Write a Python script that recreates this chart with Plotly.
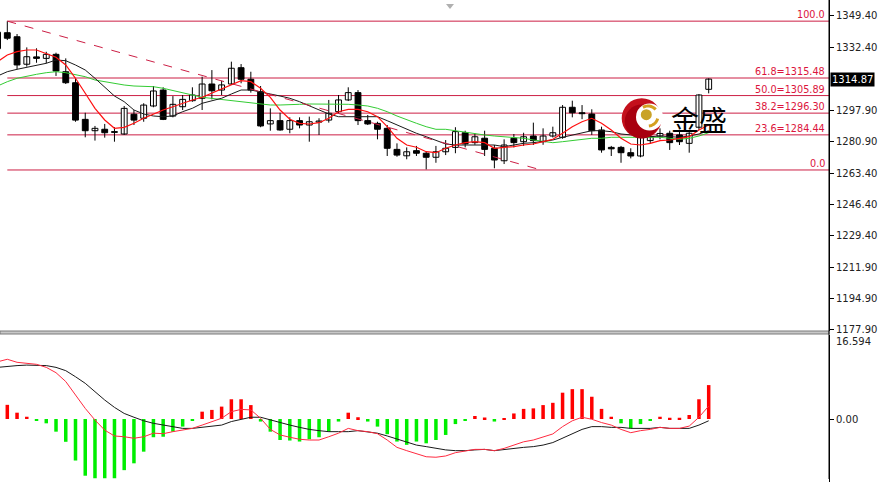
import plotly.graph_objects as go
import numpy as np

# ---------------- data ----------------
open_ = [1331.5, 1340.2, 1338.0, 1323.0, 1327.0, 1326.2, 1328.4, 1318.9, 1312.9, 1292.9,
         1286.7, 1287.5, 1286.2, 1284.9, 1295.7, 1293.5, 1300.2, 1308.9, 1294.7, 1299.8,
         1303.1, 1304.4, 1312.2, 1308.9, 1312.2, 1321.1, 1314.8, 1308.0, 1290.4, 1292.2,
         1287.5, 1292.2, 1289.8, 1291.4, 1292.5, 1297.1, 1303.5, 1307.5, 1292.2, 1290.7,
         1288.0, 1276.5, 1273.0, 1275.8, 1274.4, 1272.2, 1275.2, 1277.6, 1285.6, 1280.2,
         1282.6, 1277.1, 1270.3, 1282.6, 1280.7, 1283.8, 1280.7, 1283.8, 1283.1, 1299.5,
         1296.5, 1295.8, 1287.1, 1277.6, 1277.6, 1274.7, 1272.9, 1281.3, 1283.8, 1285.3,
         1284.4, 1279.8, 1288.6, 1309.3]
high = [1342.0, 1346.5, 1339.5, 1332.2, 1331.7, 1329.8, 1329.3, 1326.2, 1315.3, 1296.5,
        1289.3, 1290.4, 1288.6, 1300.2, 1298.0, 1301.7, 1311.1, 1310.4, 1305.6, 1306.2,
        1310.4, 1316.2, 1319.8, 1314.0, 1324.4, 1323.1, 1318.9, 1311.1, 1298.9, 1296.5,
        1294.0, 1294.0, 1294.4, 1293.5, 1303.5, 1306.2, 1310.4, 1308.9, 1295.3, 1291.6,
        1289.8, 1279.8, 1277.6, 1278.4, 1275.5, 1278.4, 1281.6, 1288.6, 1286.7, 1285.3,
        1286.7, 1278.9, 1282.0, 1284.9, 1285.6, 1291.1, 1288.0, 1288.9, 1300.7, 1303.1,
        1300.7, 1298.4, 1288.9, 1278.4, 1278.4, 1277.1, 1285.0, 1285.5, 1288.0, 1286.7,
        1286.2, 1287.0, 1306.7, 1315.3]
low = [1330.0, 1336.2, 1320.2, 1321.7, 1323.8, 1323.5, 1316.6, 1312.2, 1291.6, 1283.1,
       1281.3, 1282.9, 1280.7, 1284.4, 1289.8, 1291.6, 1299.5, 1292.5, 1294.0, 1298.0,
       1302.5, 1298.0, 1303.8, 1306.2, 1311.7, 1312.6, 1307.5, 1288.6, 1286.7, 1286.7,
       1285.3, 1288.0, 1280.7, 1284.4, 1291.1, 1296.2, 1302.9, 1289.8, 1289.8, 1282.0,
       1272.9, 1272.5, 1271.1, 1272.9, 1265.6, 1269.2, 1273.4, 1274.4, 1277.6, 1279.0,
       1272.9, 1266.2, 1268.5, 1277.6, 1278.4, 1278.9, 1279.0, 1283.0, 1282.3, 1294.0,
       1293.0, 1284.4, 1274.7, 1272.9, 1269.2, 1271.6, 1272.2, 1279.5, 1282.0, 1276.2,
       1278.9, 1274.7, 1287.1, 1307.1]
close = [1340.5, 1337.2, 1322.6, 1327.1, 1326.2, 1328.4, 1319.3, 1312.9, 1292.5, 1286.7,
         1288.0, 1285.6, 1285.8, 1298.9, 1292.5, 1300.7, 1308.4, 1292.9, 1301.1, 1303.8,
         1306.2, 1312.2, 1308.5, 1311.7, 1320.8, 1314.8, 1308.9, 1289.3, 1292.2, 1287.1,
         1292.2, 1289.8, 1291.6, 1292.0, 1296.2, 1303.5, 1307.5, 1292.2, 1290.4, 1287.5,
         1277.1, 1273.4, 1275.2, 1274.4, 1272.2, 1275.2, 1277.1, 1286.2, 1279.5, 1283.4,
         1276.5, 1270.7, 1278.9, 1280.2, 1283.4, 1281.3, 1283.8, 1285.6, 1299.5, 1296.5,
         1296.0, 1286.7, 1276.2, 1276.8, 1274.7, 1272.9, 1283.4, 1283.4, 1285.2, 1280.2,
         1280.7, 1285.3, 1306.2, 1314.87]

ma_red = [1324.38, 1328.04, 1329.84, 1330.77, 1330.77, 1328.97, 1326.78, 1322.58, 1315.32, 1307.13,
          1298.94, 1292.55, 1288.02, 1288.57, 1290.75, 1293.48, 1295.83, 1298.01, 1299.81, 1301.67,
          1303.47, 1304.95, 1307.13, 1309.31, 1311.66, 1314.01, 1313.46, 1309.86, 1304.95, 1298.01,
          1292.93, 1290.75, 1290.37, 1291.08, 1293.48, 1297.08, 1298.39, 1298.39, 1297.08, 1294.35,
          1288.89, 1282.56, 1278.90, 1277.65, 1275.24, 1274.70, 1277.10, 1278.90, 1280.16, 1280.70,
          1280.16, 1277.10, 1277.65, 1277.97, 1278.90, 1279.45, 1280.70, 1282.01, 1285.29, 1288.89,
          1291.62, 1293.48, 1290.75, 1287.09, 1282.56, 1279.45, 1278.90, 1279.83, 1281.25, 1281.63,
          1282.56, 1283.43, 1287.09, 1289.82]
ma_black = [1316.57, 1318.92, 1320.23, 1321.32, 1322.58, 1323.51, 1325.31, 1324.93, 1322.58, 1319.85,
            1315.32, 1310.73, 1305.65, 1302.54, 1298.01, 1295.83, 1294.74, 1294.35, 1294.74, 1297.08,
            1298.94, 1301.67, 1303.09, 1304.40, 1306.75, 1308.93, 1308.93, 1308.00, 1306.75, 1305.65,
            1304.40, 1302.54, 1300.19, 1298.01, 1295.83, 1294.35, 1294.35, 1294.35, 1294.35, 1294.35,
            1292.17, 1289.82, 1287.47, 1285.29, 1283.43, 1281.25, 1279.45, 1278.90, 1278.90, 1278.90,
            1278.90, 1278.90, 1277.97, 1278.90, 1279.83, 1280.16, 1280.70, 1281.63, 1283.11, 1284.36,
            1285.61, 1286.71, 1286.71, 1286.16, 1284.91, 1284.36, 1283.81, 1283.43, 1283.81, 1283.43,
            1283.11, 1283.81, 1284.91, 1286.71]
ma_green = [1311.11, 1313.46, 1315.32, 1316.57, 1317.50, 1318.38, 1318.92, 1318.38, 1317.12, 1316.19,
            1314.39, 1313.46, 1312.59, 1311.66, 1311.11, 1310.73, 1310.73, 1309.86, 1308.55, 1307.13,
            1306.20, 1304.95, 1304.40, 1303.85, 1303.09, 1302.54, 1301.99, 1301.29, 1300.74, 1300.74,
            1300.74, 1301.12, 1301.29, 1301.29, 1301.29, 1301.29, 1301.12, 1300.74, 1300.19, 1298.94,
            1297.08, 1294.74, 1292.55, 1290.75, 1288.89, 1287.47, 1287.47, 1286.71, 1285.61, 1284.91,
            1284.36, 1283.81, 1283.43, 1283.11, 1282.56, 1281.63, 1280.70, 1280.16, 1280.70, 1281.25,
            1281.63, 1282.56, 1282.56, 1283.11, 1283.11, 1283.11, 1283.11, 1283.11, 1283.11, 1282.56,
            1282.01, 1282.56, 1283.81, 1285.61]

macd_hist = [2.1, 2.8, 1.25, 0.45, -0.2, -0.85, -2.5, -4.5, -8.2, -11.2,
             -11.7, -11.7, -11.7, -10.1, -8.75, -6.45, -3.6, -3.5, -2.5, -1.5,
             -0.3, 1.45, 1.8, 2.45, 3.9, 3.9, 2.75, -0.5, -2.5, -4.15,
             -4.25, -4.45, -4.0, -3.6, -2.5, -0.5, 1.25, 0.35, -0.5, -1.5,
             -3.0, -4.45, -5.1, -4.45, -4.8, -4.15, -3.15, -1.0, -0.3, 0.6,
             0.3, -0.5, 0.2, 1.1, 2.0, 2.1, 2.75, 3.2, 5.2, 5.9,
             5.9, 4.4, 2.0, 0.45, -0.85, -1.85, -1.0, -0.3, 0.45, 0.25,
             0.25, 0.8, 3.9, 6.7]
macd_red = [11.3, 11.8, 11.2, 11.0, 10.8, 10.2, 9.15, 7.4, 4.75, 2.1,
            -0.2, -2.2, -3.35, -3.5, -3.8, -3.5, -2.8, -2.9, -2.5, -2.2,
            -1.85, -1.2, -0.5, 0.15, 1.45, 1.9, 1.8, 0.15, -2.05, -3.15,
            -3.6, -4.0, -4.15, -4.15, -3.5, -2.8, -1.85, -2.3, -2.5, -2.9,
            -4.15, -5.6, -6.25, -6.8, -7.45, -7.55, -7.3, -6.65, -6.25, -6.0,
            -6.0, -6.25, -5.8, -5.15, -4.5, -4.15, -3.6, -2.95, -1.5, -0.35,
            0.35, -0.05, -0.7, -1.2, -2.05, -2.7, -2.3, -2.05, -1.65, -1.85,
            -1.85, -1.4, 0.35, 2.55]
macd_black = [10.2, 10.45, 10.55, 10.65, 10.65, 10.55, 10.2, 9.55, 8.35, 7.05,
              5.4, 3.75, 2.3, 1.1, 0.35, -0.35, -0.85, -1.2, -1.5, -1.85,
              -1.85, -1.65, -1.4, -1.2, -0.5, -0.05, 0.35, 0.35, -0.2, -0.7,
              -1.2, -1.65, -2.05, -2.3, -2.5, -2.5, -2.5, -2.3, -2.5, -2.8,
              -3.35, -4.0, -4.65, -5.15, -5.45, -5.8, -6.1, -6.25, -6.25, -6.1,
              -6.0, -6.25, -6.0, -5.8, -5.6, -5.45, -5.15, -4.65, -3.8, -2.8,
              -2.05, -1.5, -1.5, -1.65, -1.65, -1.85, -1.85, -1.85, -1.65, -1.85,
              -1.85, -1.85, -1.2, -0.35]

fib_anchor_idx = [1, 55.8]
fib_anchor_price = [1346.52, 1265.26]
fib_ratios = [0.0, 23.6, 38.2, 50.0, 61.8, 100.0]
price_ticks = [1349.40, 1332.40, 1297.90, 1280.90, 1263.40, 1246.40, 1229.40, 1211.90, 1194.90, 1177.90]
last_price = 1314.87
macd_top = 16.594
logo_text = "金盛"

# ---------------- geometry ----------------
W, H = 882, 482
PW = 829          # plot area width (right axis at x=829)
X_RANGE = [0.25, 85.35]
Y_MAIN = [1177.34, 1358.07]
Y_MACD = [-12.44, macd_top]

def px(x):
    return x / PW

def py(y):
    return 1 - y / H

n = len(close)
idx = list(range(n))

fig = go.Figure()

# wicks
wx, wy = [], []
for i in idx:
    wx += [i, i, None]
    wy += [low[i], high[i], None]
fig.add_trace(go.Scatter(x=wx, y=wy, mode="lines", line=dict(color="black", width=1),
                         hoverinfo="skip", xaxis="x", yaxis="y"))

# bodies
base = [min(o, c) for o, c in zip(open_, close)]
hgt = [max(abs(c - o), 0.3) for o, c in zip(open_, close)]
cols = ["white" if c >= o else "black" for o, c in zip(open_, close)]
fig.add_trace(go.Bar(x=idx, y=hgt, base=base, width=0.6,
                     marker=dict(color=cols, line=dict(color="black", width=1)),
                     xaxis="x", yaxis="y"))

# moving averages
fig.add_trace(go.Scatter(x=idx, y=ma_green, mode="lines", line=dict(color="#33cc33", width=1), xaxis="x", yaxis="y"))
fig.add_trace(go.Scatter(x=idx, y=ma_black, mode="lines", line=dict(color="#1a1a1a", width=1), xaxis="x", yaxis="y"))
fig.add_trace(go.Scatter(x=idx, y=ma_red, mode="lines", line=dict(color="#ff1010", width=1.2), xaxis="x", yaxis="y"))

# MACD histogram + lines
hcols = ["#ff0000" if v >= 0 else "#00ee00" for v in macd_hist]
fig.add_trace(go.Bar(x=idx, y=macd_hist, width=0.36, marker=dict(color=hcols, line=dict(width=0)),
                     xaxis="x2", yaxis="y2"))
fig.add_trace(go.Scatter(x=idx, y=macd_black, mode="lines", line=dict(color="#1a1a1a", width=1), xaxis="x2", yaxis="y2"))
fig.add_trace(go.Scatter(x=idx, y=macd_red, mode="lines", line=dict(color="#ff2a40", width=1), xaxis="x2", yaxis="y2"))

shapes = []
annotations = []
FIB_COL = "#cc1f45"
fhi, flo = fib_anchor_price[0], fib_anchor_price[1]
for r in fib_ratios:
    lvl = flo + r / 100.0 * (fhi - flo)
    shapes.append(dict(type="line", xref="x", yref="y", x0=fib_anchor_idx[0], x1=X_RANGE[1],
                       y0=lvl, y1=lvl, line=dict(color=FIB_COL, width=1), layer="below"))
    txt = f"{r:.1f}" if r in (0.0, 100.0) else f"{r:.1f}={lvl:.2f}"
    annotations.append(dict(xref="paper", yref="y", x=px(827), y=lvl, text=txt, showarrow=False,
                            xanchor="right", yanchor="bottom", yshift=-1,
                            font=dict(family="DejaVu Sans", size=9.7, color="#dc143c")))
# dashed fib trend line
shapes.append(dict(type="line", xref="x", yref="y", x0=fib_anchor_idx[0], y0=fhi,
                   x1=fib_anchor_idx[1], y1=flo, line=dict(color=FIB_COL, width=1, dash="dash")))

# panel separator
shapes.append(dict(type="rect", xref="paper", yref="paper", x0=0, x1=1, y0=py(334), y1=py(331),
                   fillcolor="#c8c8c8", line=dict(color="#7a7a7a", width=1)))
# right axis line through both panels
shapes.append(dict(type="line", xref="paper", yref="paper", x0=1, x1=1, y0=py(479), y1=1,
                   line=dict(color="black", width=1)))

# small shift marker at top
shapes.append(dict(type="path", xref="paper", yref="paper",
                   path=f"M {px(446)},{py(4)} L {px(454)},{py(4)} L {px(450)},{py(9)} Z",
                   fillcolor="#b0b0b0", line=dict(width=0)))

# logo
def circ(cx, cy, r, color):
    return dict(type="circle", xref="paper", yref="paper", x0=px(cx - r), x1=px(cx + r),
                y0=py(cy + r), y1=py(cy - r), fillcolor=color, line=dict(width=0))
shapes.append(circ(641.7, 118.3, 20, "#c4101c"))
shapes.append(circ(641.7, 121.5, 17, "#a8000f"))
shapes.append(circ(649.5, 117.0, 13.5, "white"))
def arc(cx, cy, r, a0, a1):
    a = np.linspace(np.radians(a0), np.radians(a1), 16)
    pts = [(px(cx + r * np.cos(t)), py(cy + r * np.sin(t))) for t in a]
    return "M " + " L ".join(f"{x:.5f},{y:.5f}" for x, y in pts)
shapes.append(dict(type="path", xref="paper", yref="paper", path=arc(648, 116, 10, -120, -40),
                   line=dict(color="#d4a020", width=3)))
shapes.append(dict(type="path", xref="paper", yref="paper", path=arc(648, 116, 10, 15, 85),
                   line=dict(color="#d4a020", width=3)))
shapes.append(circ(646.3, 114.7, 5.5, "#c9a227"))
annotations.append(dict(xref="paper", yref="paper", x=px(698.5), y=py(118.5), text=logo_text,
                        showarrow=False, xanchor="center", yanchor="middle",
                        font=dict(family="Noto Sans CJK SC", size=28, color="black")))

# last price box
annotations.append(dict(xref="paper", yref="y", x=1, y=last_price, text=f"{last_price:.2f}",
                        showarrow=False, xanchor="left", yanchor="middle", xshift=1,
                        bgcolor="black", borderpad=1,
                        font=dict(family="DejaVu Sans", size=10, color="white")))
# MACD top value
annotations.append(dict(xref="paper", yref="paper", x=1, y=py(341), text=f"{macd_top:.3f}",
                        showarrow=False, xanchor="left", yanchor="middle", xshift=5,
                        font=dict(family="DejaVu Sans", size=10, color="#222")))

axis_font = dict(family="DejaVu Sans", size=10, color="#222")
fig.update_layout(
    width=W, height=H, margin=dict(l=0, r=W - PW, t=0, b=0),
    template="none", showlegend=False, barmode="overlay",
    paper_bgcolor="white", plot_bgcolor="white",
    xaxis=dict(domain=[0, 1], range=X_RANGE, visible=False, fixedrange=True),
    xaxis2=dict(domain=[0, 1], range=X_RANGE, visible=False, anchor="y2", matches="x"),
    yaxis=dict(domain=[py(331), 1], range=Y_MAIN, side="right", showgrid=False, zeroline=False,
               showline=True, linecolor="black", linewidth=1, ticks="outside", ticklen=4,
               tickcolor="black", tickvals=price_ticks, ticktext=[f"{v:.2f}" for v in price_ticks],
               tickfont=axis_font, automargin=False, anchor="x"),
    yaxis2=dict(domain=[0, py(335)], range=Y_MACD, side="right", showgrid=False, zeroline=False,
                showline=True, linecolor="black", linewidth=1, ticks="outside", ticklen=4,
                tickcolor="black", tickvals=[0], ticktext=["0.00"], tickfont=axis_font,
                automargin=False, anchor="x2"),
    shapes=shapes, annotations=annotations,
)

fig.write_html("out.html", config={"displayModeBar": False},
               post_script="document.body.style.margin='0px';document.body.style.padding='0px';document.body.style.overflow='hidden';")
